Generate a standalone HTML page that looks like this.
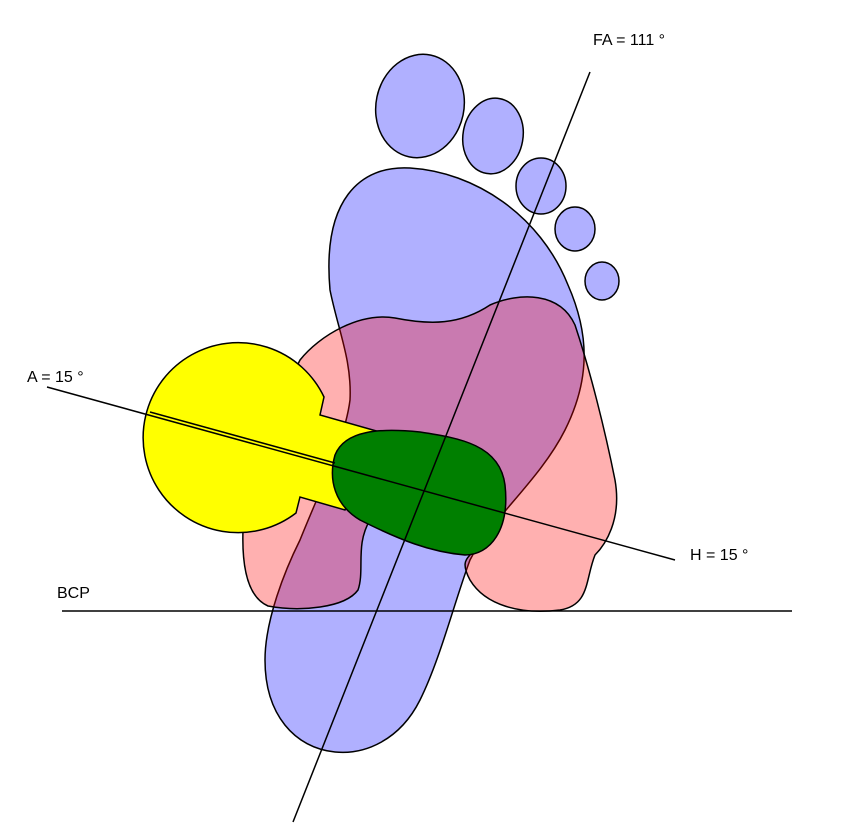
<!DOCTYPE html>
<html><head><style>body{margin:0;background:#fff}svg{display:block}text{font-family:"Liberation Sans",sans-serif;font-size:16px}</style></head>
<body>
<svg width="846" height="840" viewBox="0 0 846 840" xmlns="http://www.w3.org/2000/svg">
<g stroke="#000" stroke-width="1.5">
<g fill="#b0b0ff">
<ellipse cx="420" cy="106" rx="44" ry="52" transform="rotate(12 420 106)"/>
<ellipse cx="493" cy="136" rx="30" ry="38" transform="rotate(10 493 136)"/>
<ellipse cx="541" cy="186" rx="25" ry="28"/>
<ellipse cx="575" cy="229" rx="20" ry="22"/>
<ellipse cx="602" cy="281" rx="17" ry="19"/>
<path d="M330,290 C322,200 360,165 410,168 C475,172 540,215 568,285 C590,335 590,380 565,430 C540,480 490,520 470,560 C455,600 440,660 420,700 C400,740 365,755 335,752 C295,748 265,715 265,660 C265,620 285,570 300,540 C320,490 345,440 350,400 C352,360 338,330 330,290 Z"/>
</g>
<path fill="rgb(255,5,5)" fill-opacity="0.316" d="M300,360 C320,335 360,312 395,318 C430,325 460,325 490,305 C520,292 560,292 575,325 C590,370 605,430 615,480 C622,520 605,545 595,555 C585,580 590,605 560,610 C520,615 485,605 470,580 C462,565 465,560 470,555 L480,520 L370,520 C355,545 365,570 358,590 C345,608 300,612 268,606 C245,596 242,560 243,530 C245,480 270,420 300,360 Z"/>
<path fill="#ffff00" d="M324,397 A95,95 0 1 0 296,513 L300,497 L345,510 L380,432 L320,415 Z"/>
<path fill="#007f00" d="M335,455 C345,430 380,428 420,432 C460,438 500,445 505,485 C510,530 490,555 465,555 C430,552 400,540 360,520 C335,505 328,480 335,455 Z"/>
<line x1="590" y1="72" x2="293" y2="822"/>
<line x1="47" y1="387" x2="675" y2="560"/>
<line x1="150" y1="412" x2="335" y2="463"/>
<line x1="62" y1="611" x2="792" y2="611"/>
</g>
<text x="593" y="45">FA = 111 °</text>
<text x="27" y="382">A = 15 °</text>
<text x="690" y="560">H = 15 °</text>
<text x="57" y="598">BCP</text>
</svg>
</body></html>
